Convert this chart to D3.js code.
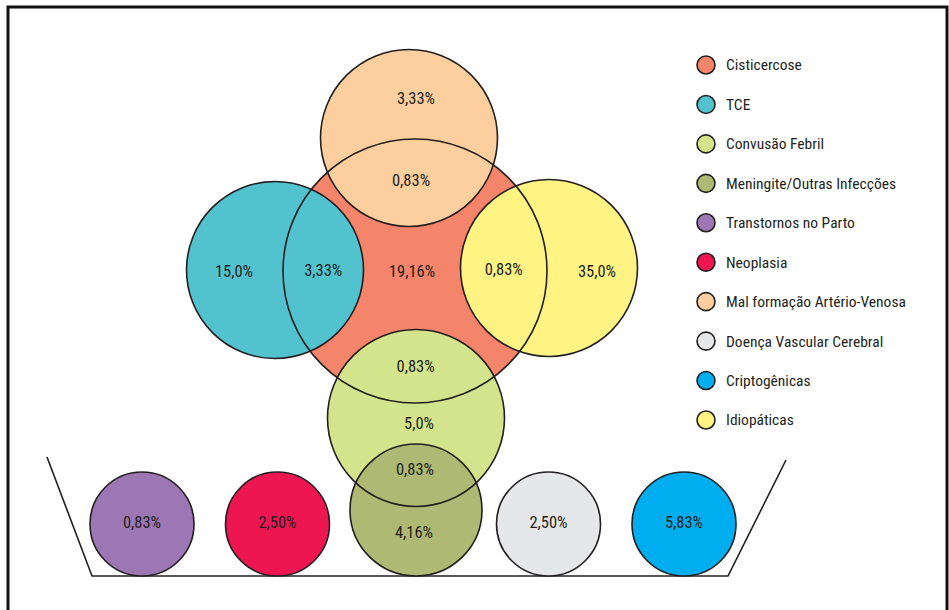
<!DOCTYPE html>
<html>
  <head>
    <meta charset="utf-8">
    <title>Epilepsia - causas</title>
    <style media="screen">
    body{margin: 0; background: #fff}
    text{font-family: "Liberation Sans Narrow", "Roboto Condensed", "DejaVu Sans Condensed", sans-serif; fill: #231f20}
    </style>
  </head>
  <body>
    <script src="https://d3js.org/d3.v7.min.js"></script>
    <script type="text/javascript">
      var w = 949, h = 610;

      // legend categories and their colours
      var categories = ["Cisticercose", "TCE", "Convusão Febril", "Meningite/Outras Infecções",
        "Transtornos no Parto", "Neoplasia", "Mal formação Artério-Venosa",
        "Doença Vascular Cerebral", "Criptogênicas", "Idiopáticas"];
      var colors = ["#f4846a", "#52c3ce", "#d4e48c", "#aeba73", "#9d77b3",
        "#ee1651", "#fdcf9e", "#e6e7e8", "#00aeef", "#fff384"];

      // values inside each circle (only-region) and in overlaps with Cisticercose
      var soloValues = {"Cisticercose": "19,16%", "TCE": "15,0%", "Convusão Febril": "5,0%",
        "Meningite/Outras Infecções": "4,16%", "Transtornos no Parto": "0,83%", "Neoplasia": "2,50%",
        "Mal formação Artério-Venosa": "3,33%", "Doença Vascular Cerebral": "2,50%",
        "Criptogênicas": "5,83%", "Idiopáticas": "35,0%"};
      var overlapValues = [
        ["Cisticercose", "Mal formação Artério-Venosa", "0,83%"],
        ["Cisticercose", "TCE", "3,33%"],
        ["Cisticercose", "Idiopáticas", "0,83%"],
        ["Cisticercose", "Convusão Febril", "0,83%"],
        ["Convusão Febril", "Meningite/Outras Infecções", "0,83%"]
      ];
      // circles sitting in the bottom tray, left to right
      var trayOrder = ["Transtornos no Parto", "Neoplasia", "Meningite/Outras Infecções",
        "Doença Vascular Cerebral", "Criptogênicas"];

      var color = d3.scaleOrdinal().domain(categories).range(colors);

      var svg = d3.select('body').append('svg')
        .attr('width', w)
        .attr('height', h)

      // frame
      svg.append('rect')
        .attr('x', 8).attr('y', 7).attr('width', 939).attr('height', 640)
        .attr('fill', 'none').attr('stroke', '#111').attr('stroke-width', 3)

      // layout of the circles
      var cx = 415, cy = 271, R = 132, r = 88.5;
      var trayX = d3.scalePoint().domain(trayOrder).range([142, 684]);
      var trayY = 524, trayR = 52;

      var nodes = {};
      nodes["Cisticercose"] = {x: cx, y: cy, r: R};
      nodes["Mal formação Artério-Venosa"] = {x: cx - 6, y: cy - 133, r: r};
      nodes["TCE"] = {x: cx - 140, y: cy - 1, r: r};
      nodes["Idiopáticas"] = {x: cx + 134, y: cy - 3, r: r};
      nodes["Convusão Febril"] = {x: cx + 1, y: cy + 147, r: r};
      trayOrder.forEach(function(c){
        nodes[c] = {x: trayX(c), y: trayY, r: trayR};
      })
      nodes["Meningite/Outras Infecções"] = {x: trayX("Meningite/Outras Infecções") + 3, y: 510, r: 66};

      var drawOrder = ["Cisticercose", "Mal formação Artério-Venosa", "TCE", "Idiopáticas",
        "Convusão Febril", "Meningite/Outras Infecções", "Transtornos no Parto", "Neoplasia",
        "Doença Vascular Cerebral", "Criptogênicas"];
      var circ = drawOrder.map(function(c){ return Object.assign({name: c}, nodes[c]) })

      // tray
      var tray = [[47, 457], [92, 576], [728, 576], [786, 460]];
      svg.append('path')
        .attr('d', d3.line()(tray))
        .attr('fill', 'none').attr('stroke', '#231f20').attr('stroke-width', 1.6)

      // fills first, outlines after so every arc stays visible
      svg.append('g').selectAll('circle')
        .data(circ).enter().append('circle')
          .attr('cx', function(d){ return d.x })
          .attr('cy', function(d){ return d.y })
          .attr('r', function(d){ return d.r })
          .attr('fill', function(d){ return color(d.name) })

      svg.append('g').selectAll('circle')
        .data(circ).enter().append('circle')
          .attr('cx', function(d){ return d.x })
          .attr('cy', function(d){ return d.y })
          .attr('r', function(d){ return d.r })
          .attr('fill', 'none')
          .attr('stroke', '#231f20')
          .attr('stroke-width', 1.6)

      // label positions
      function soloPos(c){
        var n = nodes[c];
        if (c === "Cisticercose") return [n.x - 3, n.y];
        if (c === "Mal formação Artério-Venosa") return [n.x + 7, n.y - 40];
        if (c === "TCE") return [n.x - 41, n.y + 1];
        if (c === "Idiopáticas") return [n.x + 48, n.y + 3];
        if (c === "Convusão Febril") return [n.x + 3, n.y + 5];
        if (c === "Meningite/Outras Infecções") return [n.x - 2, n.y + 22];
        return [n.x, n.y - 2];
      }
      function overlapPos(a, b){
        var A = nodes[a], B = nodes[b];
        if (b === "Meningite/Outras Infecções") return [B.x - 1, B.y - 41];
        var d = Math.hypot(B.x - A.x, B.y - A.y);
        // midpoint of the lens along the centre line
        var t = ((A.r + d - B.r) / 2) / d;
        var p = [A.x + (B.x - A.x) * t, A.y + (B.y - A.y) * t];
        if (b === "Mal formação Artério-Venosa") p[1] -= 3;
        return p;
      }

      var labels = Object.keys(soloValues).map(function(c){
        return {text: soloValues[c], pos: soloPos(c)}
      }).concat(overlapValues.map(function(o){
        return {text: o[2], pos: overlapPos(o[0], o[1])}
      }))

      svg.append('g').selectAll('text')
        .data(labels).enter().append('text')
          .attr('x', function(d){ return d.pos[0] })
          .attr('y', function(d){ return d.pos[1] })
          .attr('dy', '0.35em')
          .attr('text-anchor', 'middle')
          .attr('font-size', 16.5)
          .text(function(d){ return d.text })

      // legend
      var ly = d3.scalePoint().domain(categories).range([65, 420]);
      var legend = svg.append('g').selectAll('g')
        .data(categories).enter().append('g')
          .attr('transform', function(d){ return 'translate(706,' + ly(d) + ')' })
      legend.append('circle')
        .attr('r', 9)
        .attr('fill', function(d){ return color(d) })
        .attr('stroke', '#231f20').attr('stroke-width', 1.6)
      legend.append('text')
        .attr('x', 20).attr('dy', '0.35em')
        .attr('font-size', 15.5)
        .text(function(d){ return d })
    </script>
  </body>
</html>
